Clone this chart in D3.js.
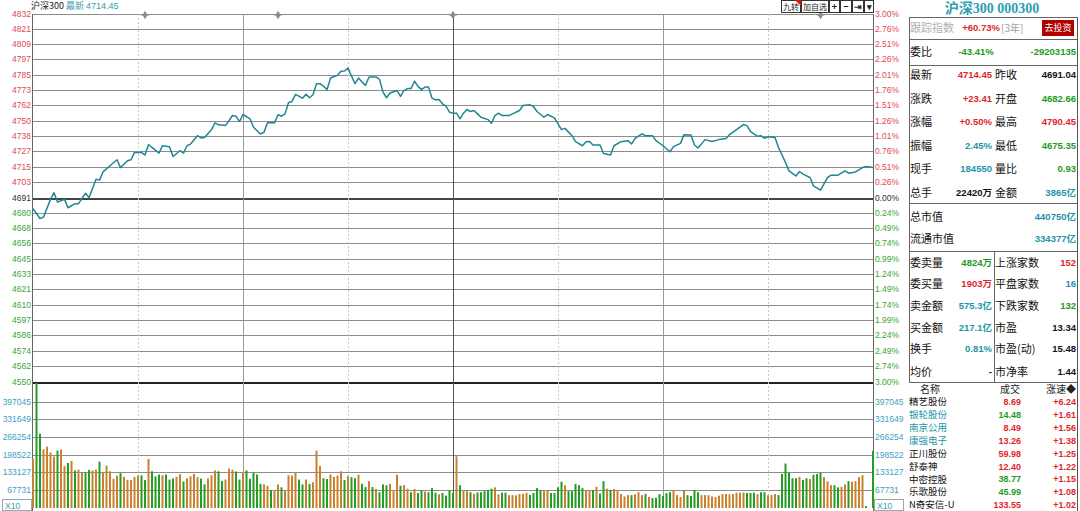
<!DOCTYPE html>
<html>
<head>
<meta charset="utf-8">
<script src="https://cdn.jsdelivr.net/npm/d3@7"></script>
<style>
body { margin: 0; background: #fff; overflow: hidden; }
text { font-family: "Liberation Sans", Arial, "Noto Sans CJK SC", sans-serif; }
.cjk { font-family: "Noto Sans CJK SC", sans-serif; }
</style>
</head>
<body>
<div id="chart"></div>
<script>
// ---- data ----
var baseClose = 4691.04;
var lastPrice = 4714.45;

var pctTicks = [3.00, 2.76, 2.51, 2.26, 2.01, 1.76, 1.51, 1.26, 1.01, 0.76, 0.51, 0.26, 0.00,
  -0.24, -0.49, -0.74, -0.99, -1.24, -1.49, -1.74, -1.99, -2.24, -2.49, -2.74, -3.00];
var priceTicks = [4832, 4821, 4809, 4797, 4785, 4773, 4762, 4750, 4738, 4727, 4715, 4703, 4691,
  4680, 4668, 4656, 4645, 4633, 4621, 4610, 4597, 4586, 4574, 4562, 4550];
var volTicks = [397045, 331649, 266254, 198522, 133127, 67731];

// minute index (0..240) and index level
var priceMin = [0,2,3,5,6,7,9,10,12,13,15,16,18,19,20,22,24,25,27,28,29,31,32,33,34,36,37,39,40,42,
  43,44,45,47,48,49,51,52,53,55,57,58,59,60,62,63,65,66,67,69,70,71,72,73,74,75,77,78,79,80,
  81,82,83,84,85,87,88,89,90,91,92,93,94,95,96,98,99,100,101,102,104,105,106,107,108,109,110,111,112,113,
  114,115,116,117,118,119,120,121,122,123,124,125,126,127,128,130,131,132,133,134,136,137,139,140,142,143,144,146,147,149,
  150,151,152,154,155,157,158,159,160,162,163,165,166,168,170,171,172,174,175,177,178,180,182,183,185,186,188,189,190,192,
  194,196,198,199,201,203,204,205,207,208,209,210,212,213,215,216,218,219,220,222,223,225,227,228,230,232,233,235,237,238,240];
var priceVal = [4682.8,4675.4,4676.4,4690.0,4695.1,4688.0,4690.0,4683.6,4686.7,4686.7,
  4694.7,4691.3,4705.4,4704.7,4711.0,4715.7,4720.3,4714.3,4719.5,4720.3,
  4725.9,4725.9,4723.9,4732.0,4729.7,4725.4,4731.0,4730.3,4722.8,4727.2,
  4725.4,4731.0,4732.3,4738.7,4737.0,4737.4,4743.3,4748.5,4747.0,4746.4,
  4754.1,4753.6,4749.5,4754.9,4751.6,4745.1,4740.0,4741.3,4748.5,4748.5,
  4754.7,4753.6,4755.4,4763.9,4764.9,4770.3,4767.4,4770.3,4767.7,4770.0,
  4778.5,4778.5,4776.7,4773.9,4782.8,4784.9,4788.0,4788.2,4790.4,4784.3,
  4778.5,4782.8,4779.7,4777.2,4783.6,4783.6,4781.8,4772.0,4767.7,4771.3,
  4773.3,4768.7,4773.3,4774.7,4774.7,4780.3,4776.4,4773.9,4775.9,4775.9,
  4767.4,4766.2,4766.4,4763.1,4761.3,4756.7,4755.9,4755.9,4751.6,4755.9,
  4758.7,4757.2,4758.0,4755.4,4752.8,4751.0,4748.2,4754.1,4755.9,4754.1,
  4754.1,4755.4,4758.0,4761.8,4762.3,4761.0,4757.2,4752.8,4754.9,4752.3,
  4747.7,4743.3,4744.3,4738.7,4734.1,4731.0,4734.1,4734.3,4731.6,4731.6,
  4725.1,4723.9,4731.0,4734.1,4734.9,4732.3,4736.6,4740.0,4738.7,4738.7,
  4734.9,4731.0,4726.4,4730.3,4732.8,4739.5,4739.3,4731.6,4729.3,4735.7,
  4734.3,4735.7,4736.6,4739.5,4743.3,4747.2,4746.4,4741.8,4738.2,4738.7,
  4736.6,4737.9,4737.4,4729.7,4718.2,4711.8,4707.9,4711.3,4709.3,4706.7,
  4700.3,4697.0,4706.7,4708.5,4708.5,4711.8,4710.0,4711.0,4714.3,4715.1,
  4714.45];

// per-minute volume, 1 = up (orange), 0 = down (green)
var volume = [184000,480000,277000,219000,229000,207000,192000,214000,218000,156000,
  168000,176000,140000,143000,132000,132000,142000,140000,143000,173000,
  132000,158000,137000,109000,121000,130000,116000,105000,104000,116000,
  121000,122000,104000,183000,137000,118000,125000,122000,125000,106000,
  110000,116000,126000,99000,111000,118000,127000,115000,110000,88000,
  110000,122000,140000,137000,101000,106000,147000,143000,136000,106000,
  131000,140000,109000,131000,125000,90000,88000,83000,67000,63000,
  88000,77000,67000,122000,121000,131000,106000,88000,106000,90000,
  96000,214000,156000,111000,108000,125000,116000,121000,137000,104000,
  119000,115000,111000,124000,90000,78000,100000,78000,71000,59000,
  88000,85000,90000,63000,124000,83000,85000,72000,59000,71000,
  56000,67000,61000,59000,74000,57000,51000,56000,46000,67000,
  57000,193000,85000,67000,63000,59000,53000,58000,59000,63000,
  67000,72000,77000,51000,57000,57000,48000,48000,47000,52000,
  53000,57000,49000,56000,74000,67000,63000,67000,56000,56000,
  77000,98000,85000,63000,63000,90000,85000,74000,67000,63000,
  67000,79000,54000,100000,72000,67000,71000,63000,52000,43000,
  48000,48000,51000,59000,48000,53000,41000,37000,38000,52000,
  45000,56000,59000,67000,48000,41000,64000,48000,45000,67000,
  59000,48000,48000,48000,43000,41000,46000,52000,52000,51000,
  52000,57000,57000,58000,56000,56000,57000,52000,59000,59000,
  48000,48000,52000,48000,127000,166000,132000,111000,111000,116000,
  105000,111000,108000,124000,127000,131000,115000,99000,85000,85000,
  77000,79000,88000,100000,98000,100000,115000,122000,7000,0,
  213000];
var volUp = [1,0,0,1,1,1,1,0,1,1, 0,1,0,1,1,0,0,1,1,0, 1,1,1,1,1,0,1,1,1,1,
  1,0,0,1,0,0,0,1,0,0, 0,1,1,0,1,1,1,1,0,0, 1,1,1,0,0,1,1,1,0,0,
  1,0,0,0,0,0,1,1,0,1, 1,0,1,1,1,1,0,0,1,0, 1,1,1,0,0,1,1,1,1,0,
  1,0,0,1,0,0,1,0,1,0, 0,0,1,1,1,0,1,1,0,1, 0,0,1,0,0,0,1,0,0,0,
  0,1,0,1,1,0,1,0,0,0, 0,0,1,1,0,0,1,1,1,1, 1,1,0,0,0,0,1,1,0,0,
  0,0,1,0,0,0,0,0,1,1, 0,1,0,0,1,0,1,1,1,1, 1,0,1,1,1,0,1,0,0,0,
  0,0,0,1,1,1,1,0,0,0, 0,1,1,1,1,1,1,1,1,1, 1,1,1,1,0,0,0,1,0,0,
  1,1,1,0,0,0,0,0,0,1, 0,0,1,0,0,0,1,1,1,0, 0,1,1,0,1,1,1,1,0,0,
  0];

var gridMinutes = [30, 60, 90, 120, 150, 180, 210];
var markerMinutes = [32, 70, 120, 225];

// right panel
var trackRow = ["跟踪指数", "+60.73%", "[3年]", "去投资"];
var ratioRow = ["委比", "-43.41%", "-29203135"];
var quoteRows = [
  ["最新", "4714.45", "r", "昨收", "4691.04", "k"],
  ["涨跌", "+23.41", "r", "开盘", "4682.66", "g"],
  ["涨幅", "+0.50%", "r", "最高", "4790.45", "r"],
  ["振幅", "2.45%", "t", "最低", "4675.35", "g"],
  ["现手", "184550", "t", "量比", "0.93", "g"],
  ["总手", "22420万", "k", "金额", "3865亿", "t"]
];
var capRows = [["总市值", "440750亿"], ["流通市值", "334377亿"]];
var orderRows = [
  ["委卖量", "4824万", "g", "上涨家数", "152", "r"],
  ["委买量", "1903万", "r", "平盘家数", "16", "t"],
  ["卖金额", "575.3亿", "t", "下跌家数", "132", "g"],
  ["买金额", "217.1亿", "t", "市盈", "13.34", "k"],
  ["换手", "0.81%", "t", "市盈(动)", "15.48", "k"],
  ["均价", "-", "k", "市净率", "1.44", "k"]
];
var listNames = ["精艺股份", "银轮股份", "南京公用", "康强电子", "正川股份", "舒泰神", "中密控股", "乐歌股份", "N奇安信-U"];
var listNameColor = ["k", "t", "t", "t", "k", "k", "k", "k", "k"];
var listPrice = ["8.69", "14.48", "8.49", "13.26", "59.98", "12.40", "38.77", "45.99", "133.55"];
var listPriceColor = ["r", "g", "r", "r", "r", "r", "g", "g", "r"];
var listSpeed = ["+6.24", "+1.61", "+1.56", "+1.38", "+1.25", "+1.22", "+1.15", "+1.08", "+1.02"];

// ---- drawing ----
var W = 1080, H = 511;
var col = {r: "#e0262c", g: "#1f9a1f", t: "#1d95a8", k: "#111111"};

var svg = d3.select("#chart").append("svg")
  .attr("width", W).attr("height", H);

var x = d3.scaleLinear().domain([0, 240]).range([33, 873]);
var y = d3.scaleLinear().domain([baseClose * 0.97, baseClose * 1.03]).range([382, 14]);
var yVol = d3.scaleLinear().domain([0, 470000]).range([508, 382]);
var pctY = function(p) { return y(baseClose * (1 + p / 100)); };

var grid = svg.append("g").attr("shape-rendering", "crispEdges");

// horizontal price grid
grid.selectAll(".hp").data(pctTicks).enter().append("line")
  .attr("x1", 33).attr("x2", 873)
  .attr("y1", function(d) { return Math.round(pctY(d)) + 0.5; })
  .attr("y2", function(d) { return Math.round(pctY(d)) + 0.5; })
  .attr("stroke", function(d, i) { return i == 12 ? "#444" : (i == 24 ? "#222" : "#8c8c8c"); })
  .attr("stroke-width", function(d, i) { return (i == 12 || i == 24) ? 2 : 1; });

// volume grid
grid.selectAll(".hv").data(volTicks).enter().append("line")
  .attr("x1", 33).attr("x2", 873)
  .attr("y1", function(d) { return Math.round(yVol(d)) + 0.5; })
  .attr("y2", function(d) { return Math.round(yVol(d)) + 0.5; })
  .attr("stroke", "#8c8c8c");

// vertical time grid
grid.selectAll(".vg").data(gridMinutes).enter().append("line")
  .attr("x1", function(d) { return Math.round(x(d)) + 0.5; })
  .attr("x2", function(d) { return Math.round(x(d)) + 0.5; })
  .attr("y1", 14).attr("y2", 508)
  .attr("stroke", function(d) { return d == 120 ? "#555" : (d % 60 == 0 ? "#999" : "#c8c8c8"); })
  .attr("stroke-width", function(d) { return d % 60 == 0 ? 1.5 : 1; })
  .attr("stroke-dasharray", function(d) { return d % 60 == 0 ? null : "2,2"; });

// frame
grid.append("line").attr("x1", 32.5).attr("x2", 32.5).attr("y1", 14).attr("y2", 511).attr("stroke", "#666");
grid.append("line").attr("x1", 873.5).attr("x2", 873.5).attr("y1", 14).attr("y2", 511).attr("stroke", "#666");

// event markers
svg.selectAll(".mk").data(markerMinutes).enter().append("path")
  .attr("d", d3.symbol().type(d3.symbolDiamond).size(22))
  .attr("transform", function(d) { return "translate(" + x(d) + ",15)"; })
  .attr("fill", "#8a8a8a");
svg.selectAll(".mkl").data(markerMinutes).enter().append("line")
  .attr("x1", function(d) { return x(d) - 4; }).attr("x2", function(d) { return x(d) + 4; })
  .attr("y1", 15).attr("y2", 15).attr("stroke", "#8a8a8a");

// volume bars
svg.append("g").selectAll("rect").data(volume).enter().append("rect")
  .attr("x", function(d, i) { return x(i) - 1; })
  .attr("width", 2)
  .attr("y", function(d) { return Math.max(383, yVol(d)); })
  .attr("height", function(d) { return 508 - Math.max(383, yVol(d)); })
  .attr("fill", function(d, i) { return volUp[i] ? "#c9812f" : "#259c25"; });

// price line
var line = d3.line().x(function(d) { return x(d[0]); }).y(function(d) { return y(d[1]); });
svg.append("path")
  .datum(d3.zip(priceMin, priceVal))
  .attr("d", line)
  .attr("fill", "none")
  .attr("stroke", "#1f8794")
  .attr("stroke-width", 1.5)
  .attr("stroke-linejoin", "round");

// left axis labels
svg.selectAll(".lt").data(priceTicks).enter().append("text")
  .attr("x", 31).attr("y", function(d, i) { return pctY(pctTicks[i]); })
  .attr("dy", "0.35em").attr("text-anchor", "end")
  .attr("font-size", 8.5)
  .attr("fill", function(d, i) { return i < 12 ? "#e04a50" : (i == 12 ? "#333" : "#3aa636"); })
  .text(function(d) { return d; });

// right axis labels
svg.selectAll(".rt").data(pctTicks).enter().append("text")
  .attr("x", 875).attr("y", function(d) { return pctY(d); })
  .attr("dy", "0.35em")
  .attr("font-size", 8.5)
  .attr("fill", function(d, i) { return i < 12 ? "#e04a50" : (i == 12 ? "#333" : "#3aa636"); })
  .text(function(d) { return Math.abs(d).toFixed(2) + "%"; });

// volume labels both sides
svg.selectAll(".vl").data(volTicks).enter().append("text")
  .attr("x", 31).attr("y", function(d) { return yVol(d); })
  .attr("dy", "0.35em").attr("text-anchor", "end")
  .attr("font-size", 8.5).attr("fill", "#3d9fc4")
  .text(function(d) { return d; });
svg.selectAll(".vr").data(volTicks).enter().append("text")
  .attr("x", 875).attr("y", function(d) { return yVol(d); })
  .attr("dy", "0.35em")
  .attr("font-size", 8.5).attr("fill", "#3d9fc4")
  .text(function(d) { return d; });
[[2, 31], [874, 903]].forEach(function(b) {
  svg.append("rect").attr("x", b[0] + 0.5).attr("y", 499.5).attr("width", b[1] - b[0]).attr("height", 11)
    .attr("fill", "#fff").attr("stroke", "#9aa");
  svg.append("text").attr("x", b[0] + 3).attr("y", 508.5).attr("font-size", 8.5).attr("fill", "#3d9fc4").text("X10");
});

// header
var hd = svg.append("text").attr("x", 31).attr("y", 9).attr("font-size", 9);
hd.append("tspan").attr("class", "cjk").attr("fill", "#222").text("沪深300 ");
hd.append("tspan").attr("class", "cjk").attr("fill", "#3a9aa8").text("最新 ");
hd.append("tspan").attr("fill", "#3a9aa8").text(lastPrice.toFixed(2));

// top buttons
var btns = [["九转", 781, 800], ["加自选", 801, 828], ["+", 829, 839], ["−", 840, 851], ["⇥", 852, 863], ["▾", 864, 873]];
btns.forEach(function(b) {
  svg.append("rect").attr("x", b[1] + 0.5).attr("y", 0.5).attr("width", b[2] - b[1]).attr("height", 12)
    .attr("fill", "#fff").attr("stroke", "#333").attr("shape-rendering", "crispEdges");
  svg.append("text").attr("class", "cjk").attr("x", (b[1] + b[2]) / 2 + 0.5).attr("y", 9.5)
    .attr("text-anchor", "middle").attr("font-size", b[0].length == 1 ? 9 : 8).attr("font-weight", b[0].length == 1 ? "bold" : "normal")
    .attr("fill", "#222").text(b[0]);
});
svg.append("path").attr("d", "M795,0 L801,0 L801,6 Z").attr("fill", "#e01010");

// ---- right panel ----
var P = svg.append("g");
var L = 910, V1 = 992, L2 = 995, V2 = 1076;

P.append("text").attr("x", 992).attr("y", 8).attr("dy", "0.35em").attr("text-anchor", "middle")
  .attr("font-size", 14).attr("font-weight", "bold").attr("fill", "#2a9fb0")
  .style("font-family", "'Liberation Serif','Noto Sans CJK SC',serif")
  .text("沪深300 000300");

var pl = P.append("g").attr("shape-rendering", "crispEdges");
[17, 39, 65, 203, 251, 382].forEach(function(yy) {
  pl.append("line").attr("x1", 909).attr("x2", 1077).attr("y1", yy + 0.5).attr("y2", yy + 0.5).attr("stroke", "#666");
});
pl.append("line").attr("x1", 909.5).attr("x2", 909.5).attr("y1", 17).attr("y2", 382).attr("stroke", "#666");
pl.append("line").attr("x1", 1077.5).attr("x2", 1077.5).attr("y1", 17).attr("y2", 511).attr("stroke", "#555");
pl.append("line").attr("x1", 994.5).attr("x2", 994.5).attr("y1", 251).attr("y2", 382).attr("stroke", "#666");

function lab(t, xx, yy, c, anchor) {
  return P.append("text").attr("class", "cjk").attr("x", xx).attr("y", yy).attr("dy", "0.35em")
    .attr("font-size", 11).attr("fill", c || "#111").attr("text-anchor", anchor || "start").text(t);
}
function num(t, xx, yy, c, anchor) {
  return P.append("text").attr("x", xx).attr("y", yy).attr("dy", "0.35em")
    .attr("font-size", 9.5).attr("font-weight", "bold").attr("fill", c)
    .attr("text-anchor", anchor || "end").text(t);
}

// tracking row
lab(trackRow[0], L, 28, "#b0b0b0");
num(trackRow[1], 1000, 28, col.r);
lab(trackRow[2], 1001, 28, "#a0a0a0").attr("font-size", 10);
P.append("rect").attr("x", 1042).attr("y", 20).attr("width", 32).attr("height", 16).attr("fill", "#b00000");
lab(trackRow[3], 1058, 28, "#fff", "middle").attr("font-size", 9);

// ratio row
lab(ratioRow[0], L, 52);
num(ratioRow[1], 976, 52, col.g, "middle");
num(ratioRow[2], V2, 52, col.g);

// quote rows
var qy = [75, 99, 122, 146, 169, 193];
quoteRows.forEach(function(r, i) {
  lab(r[0], L, qy[i]);
  num(r[1], V1, qy[i], col[r[2]]);
  lab(r[3], L2, qy[i]);
  num(r[4], V2, qy[i], col[r[5]]);
});

// cap rows
[217, 239].forEach(function(yy, i) {
  lab(capRows[i][0], L, yy);
  num(capRows[i][1], V2, yy, col.t);
});

// order rows
var oy = [263, 284, 306, 328, 349, 372];
orderRows.forEach(function(r, i) {
  lab(r[0], L, oy[i]);
  num(r[1], V1, oy[i], col[r[2]]);
  lab(r[3], L2, oy[i]);
  num(r[4], V2, oy[i], col[r[5]]);
});

// stock list
lab("名称", 930, 389, "#222", "middle").attr("font-size", 10);
lab("成交", 1010, 389, "#222", "middle").attr("font-size", 10);
lab("涨速◆", 1076, 389, "#222", "end").attr("font-size", 10);
var ly = d3.scaleLinear().domain([0, 8]).range([402, 505]);
listNames.forEach(function(n, i) {
  lab(n, L - 1, ly(i), col[listNameColor[i]]).attr("font-size", 9.5);
  num(listPrice[i], 1021, ly(i), col[listPriceColor[i]]).attr("font-size", 9);
  num(listSpeed[i], V2, ly(i), col.r).attr("font-size", 9);
});
</script>
</body>
</html>
